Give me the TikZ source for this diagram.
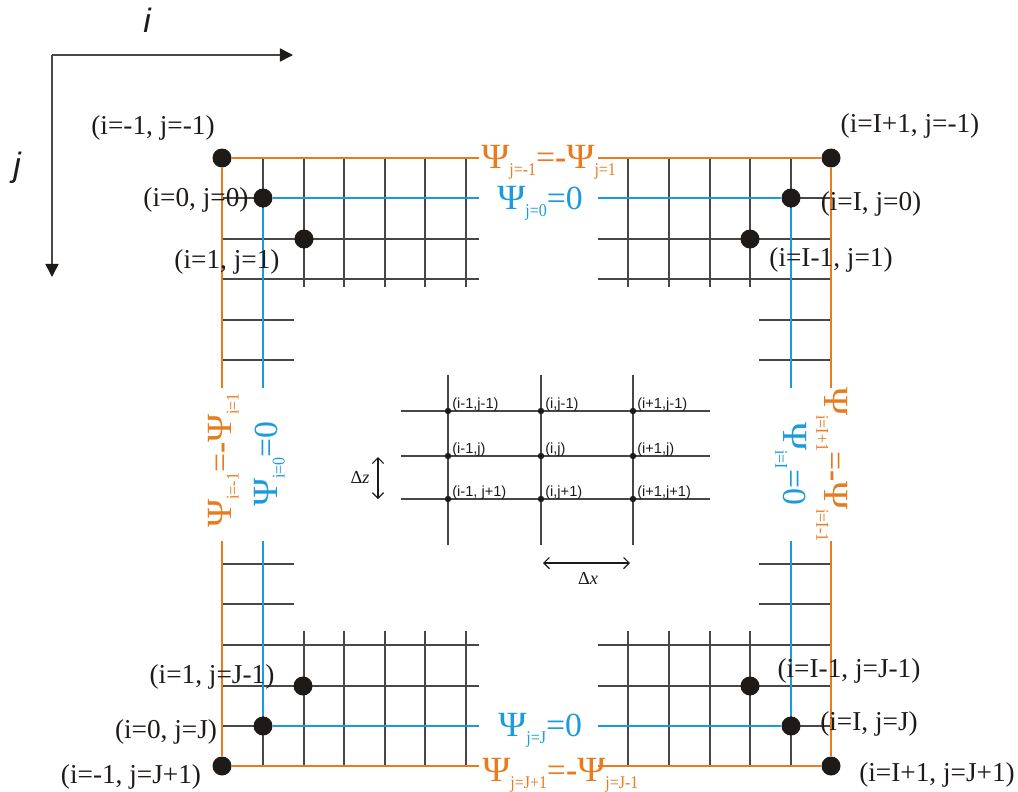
\documentclass[tikz,border=0pt]{standalone}
\usepackage{fontspec}
\setmainfont{Liberation Serif}
\setsansfont{Liberation Sans}
\usepackage{xcolor}
\usetikzlibrary{arrows.meta}
\definecolor{korange}{HTML}{E87B1E}
\definecolor{kblue}{HTML}{1B9BDE}
\definecolor{kdark}{HTML}{1E1A18}
\definecolor{kgrid}{HTML}{474747}
\newcommand{\psisub}[1]{\scalebox{1.13}[1.05]{Ψ}\raisebox{-5.5pt}{\scalebox{0.96}[1.08]{\fontsize{11.8}{13}\selectfont #1}}}
\tikzset{
  gridline/.style={kgrid, line width=0.9pt},
  walline/.style={korange, line width=2.05pt},
  zeroline/.style={kblue, line width=2.05pt},
  griddot/.style={circle, fill=kdark, inner sep=0pt, minimum size=0.475cm},
  smalldot/.style={circle, fill=kdark, inner sep=0pt, minimum size=0.16cm},
  ptlabel/.style={font=\fontsize{19.4}{21}\selectfont, text=kdark, inner sep=0pt},
  smlabel/.style={font=\fontsize{10.4}{12}\selectfont\sffamily, text=kdark, inner sep=0pt, anchor=west},
  psilabel/.style={font=\fontsize{24}{26}\selectfont, inner sep=0pt, anchor=base west},
  axlabel/.style={font=\fontsize{24}{26}\selectfont\sffamily\itshape, text=kdark, inner sep=0pt},
  deltalabel/.style={font=\fontsize{13}{14}\selectfont, text=kdark, inner sep=0pt},
  axisline/.style={kgrid, line width=1.1pt, -{Triangle[length=0.33cm, width=0.33cm, color=kdark]}},
  steparrow/.style={kdark, line width=0.8pt, {Straight Barb[length=0.14cm]}-{Straight Barb[length=0.14cm]}},
}
\begin{document}
\begin{tikzpicture}[x=0.025cm, y=-0.025cm]
\useasboundingbox (0,0) rectangle (1018,791);
\fill[white] (0,0) rectangle (1018,791);
% axes
\coordinate (axcorner) at (52,55);
\coordinate (axi) at (293,55);
\coordinate (axj) at (52,277);
\draw[axisline] (axcorner) -- (axi);
\draw[axisline] (axcorner) -- (axj);
\node[axlabel] (ilabel) at (147,20) {i};
\node[axlabel] (jlabel) at (17,168) {j};
% corner grids
\foreach \y in {239,279,645,686} {
  \draw[gridline] (222,\y) -- (479,\y);
  \draw[gridline] (598,\y) -- (831,\y);
}
\foreach \y in {320,360,564,604} {
  \draw[gridline] (222,\y) -- (294,\y);
  \draw[gridline] (759,\y) -- (831,\y);
}
\foreach \x in {263,304,344,385,425,466,628,669,710,750,791} {
  \draw[gridline] (\x,158) -- (\x,287);
  \draw[gridline] (\x,631) -- (\x,766);
}
\draw[gridline] (222,198) -- (263,198);
\draw[gridline] (791,198) -- (831,198);
\draw[gridline] (222,726) -- (263,726);
\draw[gridline] (791,726) -- (831,726);
% boundary lines
\node[griddot] (tl) at (222,158) {};
\node[griddot] (tr) at (831,158) {};
\node[griddot] (bl) at (222,766) {};
\node[griddot] (br) at (831,766) {};
\node[griddot] (tlz) at (263,198) {};
\node[griddot] (trz) at (791,198) {};
\node[griddot] (blz) at (263,726) {};
\node[griddot] (brz) at (791,726) {};
\node[griddot] (tlo) at (304,239) {};
\node[griddot] (tro) at (750,239) {};
\node[griddot] (blo) at (303,686) {};
\node[griddot] (bro) at (750,686) {};
\coordinate (wt1) at (479,158);
\coordinate (wt2) at (598,158);
\coordinate (wb1) at (479,766);
\coordinate (wb2) at (598,766);
\coordinate (wl1) at (222,388);
\coordinate (wl2) at (222,541);
\coordinate (wr1) at (831,388);
\coordinate (wr2) at (831,541);
\coordinate (zt1) at (479,198);
\coordinate (zt2) at (598,198);
\coordinate (zb1) at (479,726);
\coordinate (zb2) at (598,726);
\coordinate (zl1) at (263,388);
\coordinate (zl2) at (263,541);
\coordinate (zr1) at (791,388);
\coordinate (zr2) at (791,541);
\draw[walline] (tl) -- (wt1);
\draw[walline] (wt2) -- (tr);
\draw[walline] (bl) -- (wb1);
\draw[walline] (wb2) -- (br);
\draw[walline] (tl) -- (wl1);
\draw[walline] (wl2) -- (bl);
\draw[walline] (tr) -- (wr1);
\draw[walline] (wr2) -- (br);
\draw[zeroline] (tlz) -- (zt1);
\draw[zeroline] (zt2) -- (trz);
\draw[zeroline] (blz) -- (zb1);
\draw[zeroline] (zb2) -- (brz);
\draw[zeroline] (tlz) -- (zl1);
\draw[zeroline] (zl2) -- (blz);
\draw[zeroline] (trz) -- (zr1);
\draw[zeroline] (zr2) -- (brz);
% point labels
\node[ptlabel] (ltl) at (153,128) {(i=-1, j=-1)};
\node[ptlabel] (ltlz) at (196,200) {(i=0, j=0)};
\node[ptlabel] (ltlo) at (227,262) {(i=1, j=1)};
\node[ptlabel] (ltr) at (910,126) {(i=I+1, j=-1)};
\node[ptlabel] (ltrz) at (871,204) {(i=I, j=0)};
\node[ptlabel] (ltro) at (831,260) {(i=I-1, j=1)};
\node[ptlabel] (lblo) at (212,677) {(i=1, j=J-1)};
\node[ptlabel] (lblz) at (166,732) {(i=0, j=J)};
\node[ptlabel] (lbl) at (131,777) {(i=-1, j=J+1)};
\node[ptlabel] (lbro) at (849,671) {(i=I-1, j=J-1)};
\node[ptlabel] (lbrz) at (869,724) {(i=I, j=J)};
\node[ptlabel] (lbr) at (937,775) {(i=I+1, j=J+1)};
% boundary conditions
\node[psilabel, text=korange] (psitop) at (481,168) {\psisub{j=-1}=\textbf{-}\psisub{j=1}};
\node[psilabel, text=kblue] (zerotop) at (497,209) {\psisub{j=0}=0};
\node[psilabel, text=kblue] (zerobot) at (498,736) {\psisub{j=J}=0};
\node[psilabel, text=korange] (psibot) at (482,781) {\psisub{j=J+1}=\textbf{-}\psisub{j=J-1}};
\node[psilabel, text=korange, rotate=90] (psileft) at (231,528) {\psisub{i=-1}=\textbf{-}\psisub{i=1}};
\node[psilabel, text=kblue, rotate=90] (zeroleft) at (277,507) {\psisub{i=0}=0};
\node[psilabel, text=kblue, rotate=-90] (zeroright) at (783,422) {\psisub{i=I}=0};
\node[psilabel, text=korange, rotate=-90] (psiright) at (824,387) {\psisub{i=I+1}=\textbf{-}\psisub{i=I-1}};
% stencil
\foreach \y in {411,456,499} {
  \draw[gridline] (401,\y) -- (710,\y);
}
\foreach \x in {448,541,633} {
  \draw[gridline] (\x,375) -- (\x,545);
}
\foreach \x/\y/\name/\txt in {
  448/411/sa/{(i-1,j-1)}, 541/411/sb/{(i,j-1)}, 633/411/sc/{(i+1,j-1)},
  448/456/sd/{(i-1,j)}, 541/456/se/{(i,j)}, 633/456/sf/{(i+1,j)},
  448/499/sg/{(i-1, j+1)}, 541/499/sh/{(i,j+1)}, 633/499/si/{(i+1,j+1)}} {
  \node[smalldot] (\name) at (\x,\y) {};
  \node[smlabel] (\name txt) at (\x+4,\y-6) {\txt};
}
\coordinate (dz1) at (378,457);
\coordinate (dz2) at (378,499);
\coordinate (dx1) at (543,563);
\coordinate (dx2) at (630,563);
\draw[steparrow] (dz1) -- (dz2);
\draw[steparrow] (dx1) -- (dx2);
\node[deltalabel] (dzlabel) at (360,477) {Δ\textit{z}};
\node[deltalabel] (dxlabel) at (588,578) {Δ\textit{x}};
\end{tikzpicture}
\end{document}
